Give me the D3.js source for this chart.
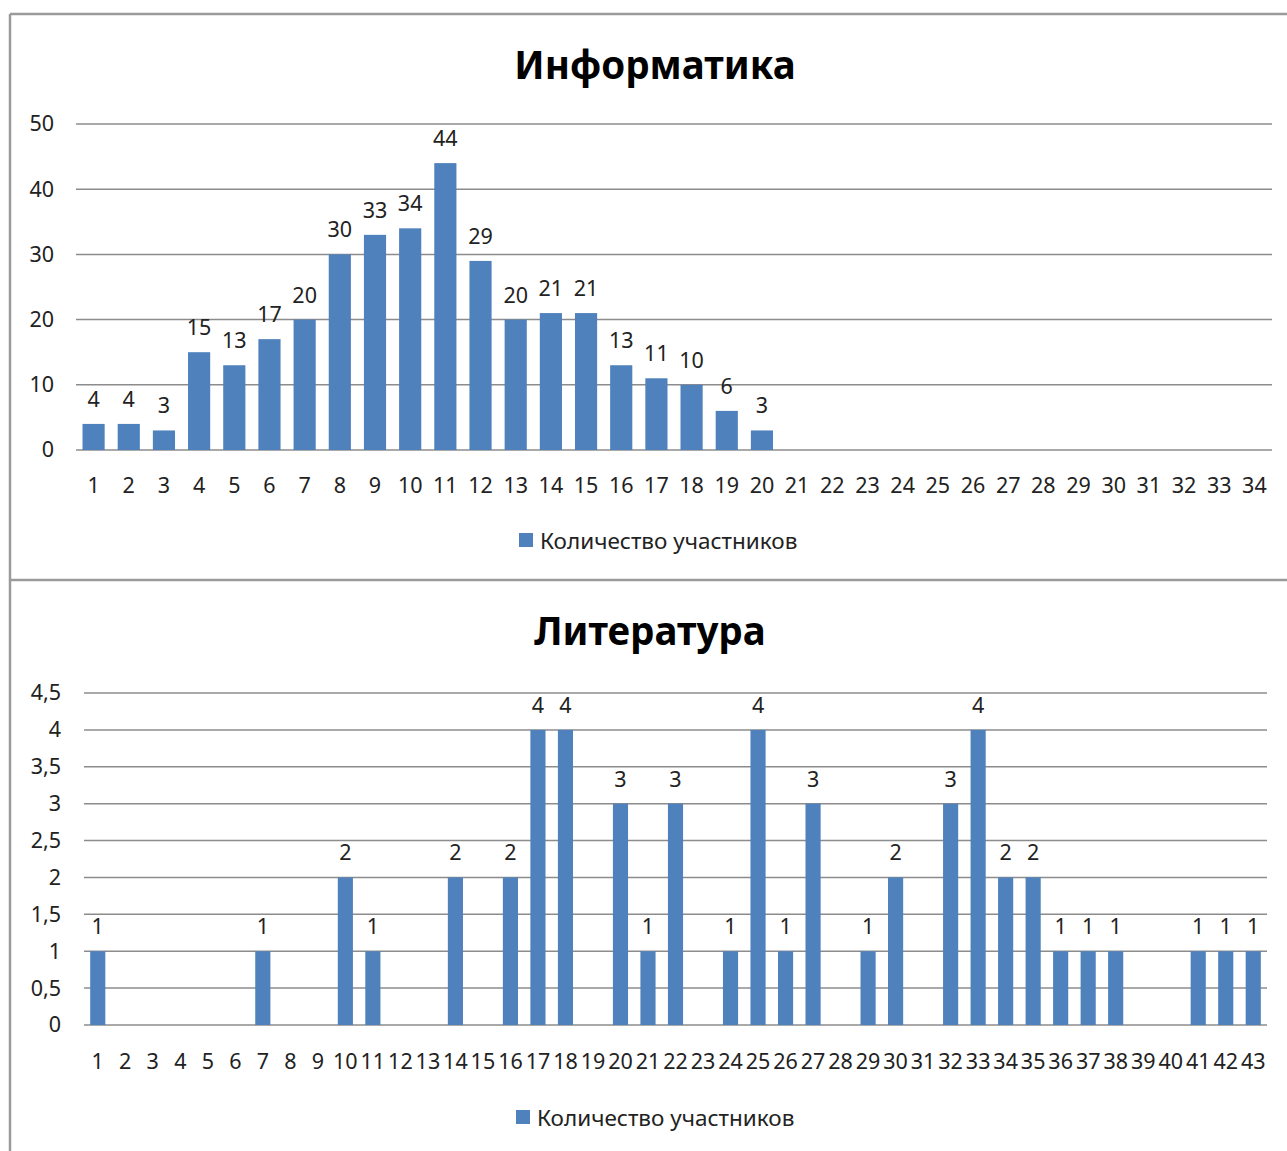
<!DOCTYPE html>
<html>
<head>
<meta charset="utf-8">
<script src="https://cdn.jsdelivr.net/npm/d3@7"></script>
<style>
  html, body { margin: 0; padding: 0; background: #fff; }
  svg { display: block; }
  text { font-family: "Noto Sans", "Open Sans", sans-serif; fill: #222; }
</style>
</head>
<body>
<svg id="chart" width="1287" height="1151"></svg>
<script>
// ---- Data ----
const seriesName = "Количество участников";

const infoTitle = "Информатика";
const infoCategories = ["1","2","3","4","5","6","7","8","9","10","11","12","13","14","15","16","17","18","19","20","21","22","23","24","25","26","27","28","29","30","31","32","33","34"];
const infoValues = [4,4,3,15,13,17,20,30,33,34,44,29,20,21,21,13,11,10,6,3,null,null,null,null,null,null,null,null,null,null,null,null,null,null];
const infoTicks = [0,10,20,30,40,50];

const litTitle = "Литература";
const litCategories = ["1","2","3","4","5","6","7","8","9","10","11","12","13","14","15","16","17","18","19","20","21","22","23","24","25","26","27","28","29","30","31","32","33","34","35","36","37","38","39","40","41","42","43"];
const litValues = [1,null,null,null,null,null,1,null,null,2,1,null,null,2,null,2,4,4,null,3,1,3,null,1,4,1,3,null,1,2,null,3,4,2,2,1,1,1,null,null,1,1,1];
const litTicks = [0,0.5,1,1.5,2,2.5,3,3.5,4,4.5];

const barColor = "#4F81BD";
const gridColor = "#8c8c8c";
const frameColor = "#9a9a9a";

const svg = d3.select("#chart");

// ---- Frame ----
svg.append("line").attr("x1",10).attr("x2",1287).attr("y1",14).attr("y2",14)
  .attr("stroke",frameColor).attr("stroke-width",2.5);
svg.append("line").attr("x1",10).attr("x2",10).attr("y1",14).attr("y2",1151)
  .attr("stroke",frameColor).attr("stroke-width",2.5);
svg.append("line").attr("x1",10).attr("x2",1287).attr("y1",580).attr("y2",580)
  .attr("stroke",frameColor).attr("stroke-width",2.5);

function drawChart(cfg) {
  const g = svg.append("g");
  const x = d3.scaleBand().domain(cfg.categories).range([cfg.left, cfg.right])
    .paddingInner(cfg.pad).paddingOuter(cfg.pad / 2);
  const y = d3.scaleLinear().domain([0, cfg.max]).range([cfg.bottom, cfg.top]);

  // title
  g.append("text").attr("x", cfg.titleX).attr("y", cfg.titleY)
    .attr("text-anchor","middle").attr("font-size", 38.5).attr("font-weight","bold")
    .style("fill","#000").text(cfg.title);

  // gridlines
  g.selectAll("line.grid").data(cfg.ticks).enter().append("line")
    .attr("x1", cfg.left).attr("x2", cfg.right)
    .attr("y1", d => y(d)).attr("y2", d => y(d))
    .attr("stroke", gridColor).attr("stroke-width", 1.5);

  // y axis labels
  const yAxis = d3.axisLeft(y).tickValues(cfg.ticks).tickSize(0).tickPadding(0)
    .tickFormat(d => String(d).replace(".", ","));
  const ya = g.append("g").attr("transform", `translate(${cfg.yLabelX},0)`).call(yAxis);
  ya.select(".domain").remove();
  ya.selectAll("text").attr("font-size", 21.5).style("fill","#222");

  // x axis labels
  const xAxis = d3.axisBottom(x).tickSize(0).tickPadding(0);
  const xa = g.append("g").attr("transform", `translate(0,${cfg.xLabelY})`).call(xAxis);
  xa.select(".domain").remove();
  xa.selectAll("text").attr("font-size", 21.5).attr("dy","0.35em").attr("y",0).style("fill","#222");

  const pts = cfg.categories.map((c, i) => ({c, v: cfg.values[i]})).filter(d => d.v !== null);

  // bars
  g.selectAll("rect.bar").data(pts).enter().append("rect")
    .attr("x", d => x(d.c)).attr("width", x.bandwidth())
    .attr("y", d => y(d.v)).attr("height", d => y(0) - y(d.v))
    .attr("fill", barColor);

  // data labels
  g.selectAll("text.lbl").data(pts).enter().append("text")
    .attr("x", d => x(d.c) + x.bandwidth() / 2).attr("y", d => y(d.v) - 17)
    .attr("text-anchor","middle").attr("font-size", 21.5).style("fill","#222")
    .text(d => d.v);

  // legend
  g.append("rect").attr("x", cfg.legendX).attr("y", cfg.legendY - 8)
    .attr("width", 14).attr("height", 14).attr("fill", barColor);
  g.append("text").attr("x", cfg.legendX + 21).attr("y", cfg.legendY)
    .attr("dy","0.35em").attr("font-size", 22.5).style("fill","#222").text(seriesName);
}

drawChart({
  title: infoTitle, titleX: 655, titleY: 79,
  categories: infoCategories, values: infoValues, ticks: infoTicks, max: 50,
  left: 76, right: 1272, top: 124, bottom: 450, pad: 0.37,
  yLabelX: 54, xLabelY: 485, legendX: 519, legendY: 541
});

drawChart({
  title: litTitle, titleX: 650, titleY: 645,
  categories: litCategories, values: litValues, ticks: litTicks, max: 4.5,
  left: 84, right: 1267, top: 693, bottom: 1025, pad: 0.45,
  yLabelX: 61, xLabelY: 1061, legendX: 516, legendY: 1118
});
</script>
</body>
</html>
